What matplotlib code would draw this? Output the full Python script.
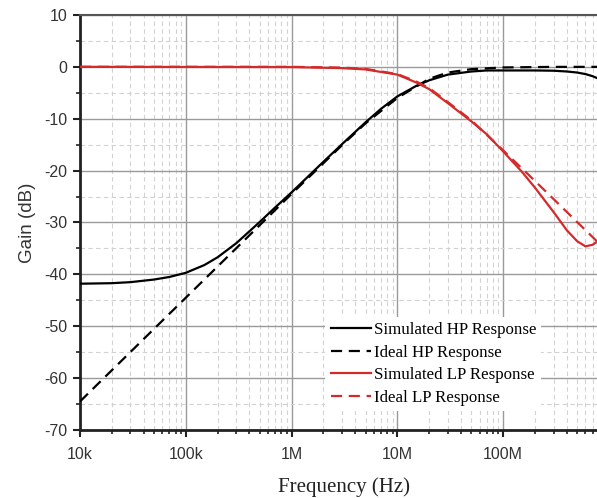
import numpy as np
import matplotlib
matplotlib.use("Agg")
import matplotlib.pyplot as plt
from matplotlib.ticker import FixedLocator, NullFormatter, MultipleLocator

plt.rcParams["axes.unicode_minus"] = False

# values (frequency in Hz, gain in dB)
freq_hp_sim = [1e4, 2e4, 3e4, 5e4, 7e4, 1e5, 1.5e5, 2e5, 3e5, 5e5, 7e5, 1e6, 2e6, 3e6,
               5e6, 7e6, 1e7, 1.5e7, 2e7, 3e7, 5e7, 7e7, 1e8, 2e8, 3e8, 4e8, 5e8,
               6e8, 7e8, 8e8, 9e8]
gain_hp_sim = [-41.8, -41.7, -41.5, -41.0, -40.5, -39.7, -38.2, -36.7, -34.0, -29.9, -27.1,
               -24.2, -18.3, -14.9, -10.7, -8.1, -5.7, -3.7, -2.6, -1.5, -0.9, -0.7, -0.7,
               -0.7, -0.75, -0.9, -1.1, -1.4, -1.8, -2.3, -2.9]

freq_hp_ideal = [1e4, 1e5, 1e6, 3e6, 5e6, 1e7, 2e7, 3e7, 5e7, 1e8, 3e8, 1e9]
gain_hp_ideal = [-64.5, -44.5, -24.5, -15.1, -10.9, -6.0, -2.3, -1.1, -0.45, -0.12, -0.01, 0.0]

freq_lp_sim = [1e4, 1e6, 3e6, 5e6, 1e7, 1.5e7, 2e7, 3e7, 5e7, 7e7, 1e8, 1.5e8, 2e8, 3e8,
               4e8, 5e8, 6e8, 7e8, 8e8, 9e8]
gain_lp_sim = [0.0, -0.05, -0.25, -0.5, -1.5, -3.0, -4.3, -7.0, -10.5, -13.0, -16.3, -20.2,
               -23.3, -28.0, -31.5, -33.6, -34.6, -34.3, -33.5, -32.5]

freq_lp_ideal = [1e4, 1e6, 3e6, 5e6, 1e7, 1.5e7, 2e7, 3e7, 5e7, 1e8, 2e8, 3e8, 5e8, 7e8, 1e9]
gain_lp_ideal = [0.0, 0.0, -0.15, -0.4, -1.4, -2.8, -4.1, -6.8, -10.3, -16.1, -22.0, -25.5,
                 -29.9, -32.8, -35.9]

x_ticks = [1e4, 1e5, 1e6, 1e7, 1e8]
x_labels = ["10k", "100k", "1M", "10M", "100M"]

red = "#d42a2a"

fig = plt.figure(figsize=(5.97, 4.98), dpi=100)
ax = fig.add_axes([0.134, 0.1365, 0.886, 0.8335])

ax.plot(freq_hp_sim, gain_hp_sim, color="black", lw=1.6, label="Simulated HP Response", zorder=4)
ax.plot(freq_hp_ideal, gain_hp_ideal, color="black", lw=1.6, ls=(0, (5, 3)),
        label="Ideal HP Response", zorder=4)
ax.plot(freq_lp_sim, gain_lp_sim, color=red, lw=1.6, label="Simulated LP Response", zorder=5)
ax.plot(freq_lp_ideal, gain_lp_ideal, color=red, lw=1.6, ls=(0, (5, 3)),
        label="Ideal LP Response", zorder=5)

ax.set_xscale("log")
ax.set_xlim(1e4, 1e9)
ax.set_ylim(-70, 10)

ax.set_xticks(x_ticks)
ax.set_xticklabels(x_labels)
minor = [m * 10 ** e for e in range(4, 9) for m in range(2, 10)]
ax.xaxis.set_minor_locator(FixedLocator(minor))
ax.xaxis.set_minor_formatter(NullFormatter())
ax.yaxis.set_major_locator(MultipleLocator(10))
ax.yaxis.set_minor_locator(MultipleLocator(5))

ax.grid(which="major", color="#9a9a9a", lw=1.0, ls="-", zorder=0)
ax.grid(which="minor", color="#d2d2d2", lw=0.8, ls=(0, (4, 3)), zorder=0)
ax.set_axisbelow(True)

for s in ["left", "bottom"]:
    ax.spines[s].set_linewidth(2.0)
    ax.spines[s].set_color("#222222")
ax.spines["top"].set_linewidth(1.5)
ax.spines["top"].set_color("#555555")
ax.spines["right"].set_visible(False)

ax.tick_params(which="major", direction="out", length=5, width=1.5, colors="#222222",
               labelsize=11.5, pad=4)
ax.tick_params(axis="x", which="major", pad=7)
ax.tick_params(which="minor", direction="out", length=3, width=1.2, colors="#222222")
for lbl in ax.get_xticklabels() + ax.get_yticklabels():
    lbl.set_family("Liberation Sans")
    lbl.set_color("#333333")

ax.set_xlabel("Frequency (Hz)", family="Liberation Serif", fontsize=15, labelpad=11,
              color="#222222")
ax.set_ylabel("Gain (dB)", family="Liberation Sans", fontsize=13.5, labelpad=6,
              color="#333333")

leg = ax.legend(loc="center left", bbox_to_anchor=(0.448, 0.159), frameon=True,
                prop={"family": "Liberation Serif", "size": 12.2}, handlelength=2.4,
                handletextpad=0.15, labelspacing=0.4, borderpad=0.3, fancybox=False)
leg.get_frame().set_edgecolor("none")
leg.get_frame().set_facecolor("white")
leg.get_frame().set_alpha(1.0)

fig.savefig("out.png", dpi=100)
